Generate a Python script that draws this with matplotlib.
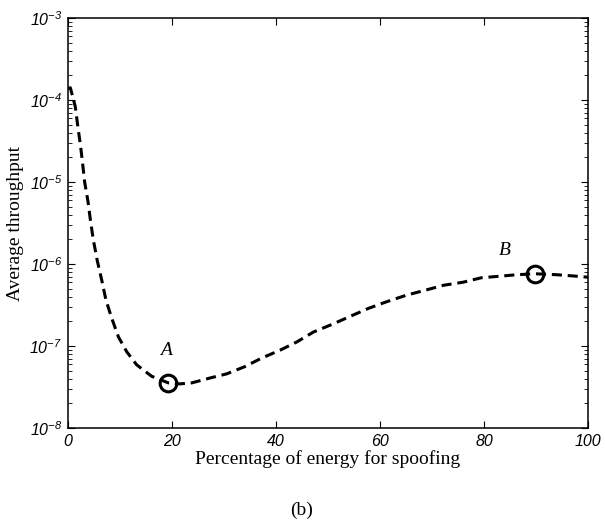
import matplotlib
matplotlib.use("Agg")
import matplotlib.pyplot as plt
import numpy as np
from matplotlib.ticker import FixedLocator, FuncFormatter, LogLocator, NullFormatter

# Data (percentage of energy, average throughput)
energy_pct = [0.0, 0.45, 1.4, 1.9, 2.4, 2.8, 3.2, 3.85, 4.3, 4.85, 5.6, 6.5, 7.3,
              8.4, 9.7, 11.3, 13.2, 16.1, 19.3, 21.5, 23.8, 27.3, 30.5, 34.0,
              37.2, 40.8, 44.0, 47.2, 51.0, 54.2, 57.8, 61.3, 65.1, 68.7, 72.2,
              76.0, 79.5, 83.1, 86.3, 89.8, 94.0, 97.8, 100.0]
throughput = [1.38e-4, 1.41e-4, 8.3e-5, 4.7e-5, 2.8e-5, 1.7e-5, 1.0e-5, 5.75e-6,
              3.47e-6, 2.0e-6, 1.12e-6, 6.3e-7, 3.63e-7, 2.19e-7, 1.29e-7,
              8.5e-8, 5.9e-8, 4.27e-8, 3.55e-8, 3.45e-8, 3.55e-8, 4.07e-8,
              4.57e-8, 5.6e-8, 7.1e-8, 8.9e-8, 1.12e-7, 1.48e-7, 1.86e-7,
              2.29e-7, 2.88e-7, 3.47e-7, 4.17e-7, 4.79e-7, 5.5e-7, 6.0e-7,
              6.8e-7, 7.1e-7, 7.4e-7, 7.6e-7, 7.4e-7, 7.1e-7, 6.9e-7]
marked_x = [19.3, 89.8]
marked_y = [3.55e-8, 7.6e-7]
marked_labels = ["A", "B"]
label_pos = [(18.8, 8.9e-8), (84.0, 1.48e-6)]
xticks = [0, 20, 40, 60, 80, 100]
yticks = [1e-8, 1e-7, 1e-6, 1e-5, 1e-4, 1e-3]

plt.rcParams['font.family'] = ['Liberation Sans', 'DejaVu Sans']
plt.rcParams['font.style'] = 'italic'
plt.rcParams['mathtext.fontset'] = 'custom'
plt.rcParams['mathtext.rm'] = 'Liberation Sans:style=italic'
plt.rcParams['mathtext.it'] = 'Liberation Sans:style=italic'
plt.rcParams['mathtext.default'] = 'it'

fig = plt.figure(figsize=(6.05, 5.23), dpi=100)
ax = fig.add_axes([68/605, 1-428/523, (588-68)/605, (428-18)/523])

ax.plot(energy_pct, throughput, color='black', lw=2.2, dashes=(3.3, 1.9),
        dash_capstyle='butt', solid_joinstyle='round')
ax.plot(marked_x, marked_y, linestyle='none', marker='o', markersize=12,
        markerfacecolor='none', markeredgecolor='black', markeredgewidth=2.2)
for lab, (lx, ly) in zip(marked_labels, label_pos):
    ax.text(lx, ly, lab, fontfamily='Liberation Serif', fontstyle='italic',
            fontsize=14, ha='center', va='center')

ax.set_yscale('log')
ax.set_xlim(0, 100)
ax.set_ylim(1e-8, 1e-3)
ax.xaxis.set_major_locator(FixedLocator(xticks))
ax.yaxis.set_major_locator(FixedLocator(yticks))
ax.yaxis.set_minor_locator(LogLocator(base=10, subs=np.arange(2, 10)))
ax.yaxis.set_minor_formatter(NullFormatter())
ax.xaxis.set_major_formatter(FuncFormatter(lambda v, p: f"{int(v)}"))
ax.yaxis.set_major_formatter(FuncFormatter(lambda v, p: r"$10^{%d}$" % int(round(np.log10(v)))))

ax.tick_params(which='both', direction='in', top=True, right=True, labelsize=11.5)
ax.tick_params(which='major', length=5, width=0.8)
ax.tick_params(which='minor', length=3, width=0.6)
ax.tick_params(axis='x', pad=4)
ax.tick_params(axis='y', pad=4)
for s in ax.spines.values():
    s.set_linewidth(1.1)

ax.set_xlabel("Percentage of energy for spoofing", fontfamily='Liberation Serif',
              fontstyle='normal', fontsize=14, labelpad=1)
ax.set_ylabel("Average throughput", fontfamily='Liberation Serif', fontstyle='normal',
              fontsize=14, labelpad=4)
fig.text(302/605, 1-510/523, "(b)", fontfamily='Liberation Serif', fontstyle='normal',
         fontsize=14, ha='center', va='center')

fig.savefig("out.png", dpi=100)
